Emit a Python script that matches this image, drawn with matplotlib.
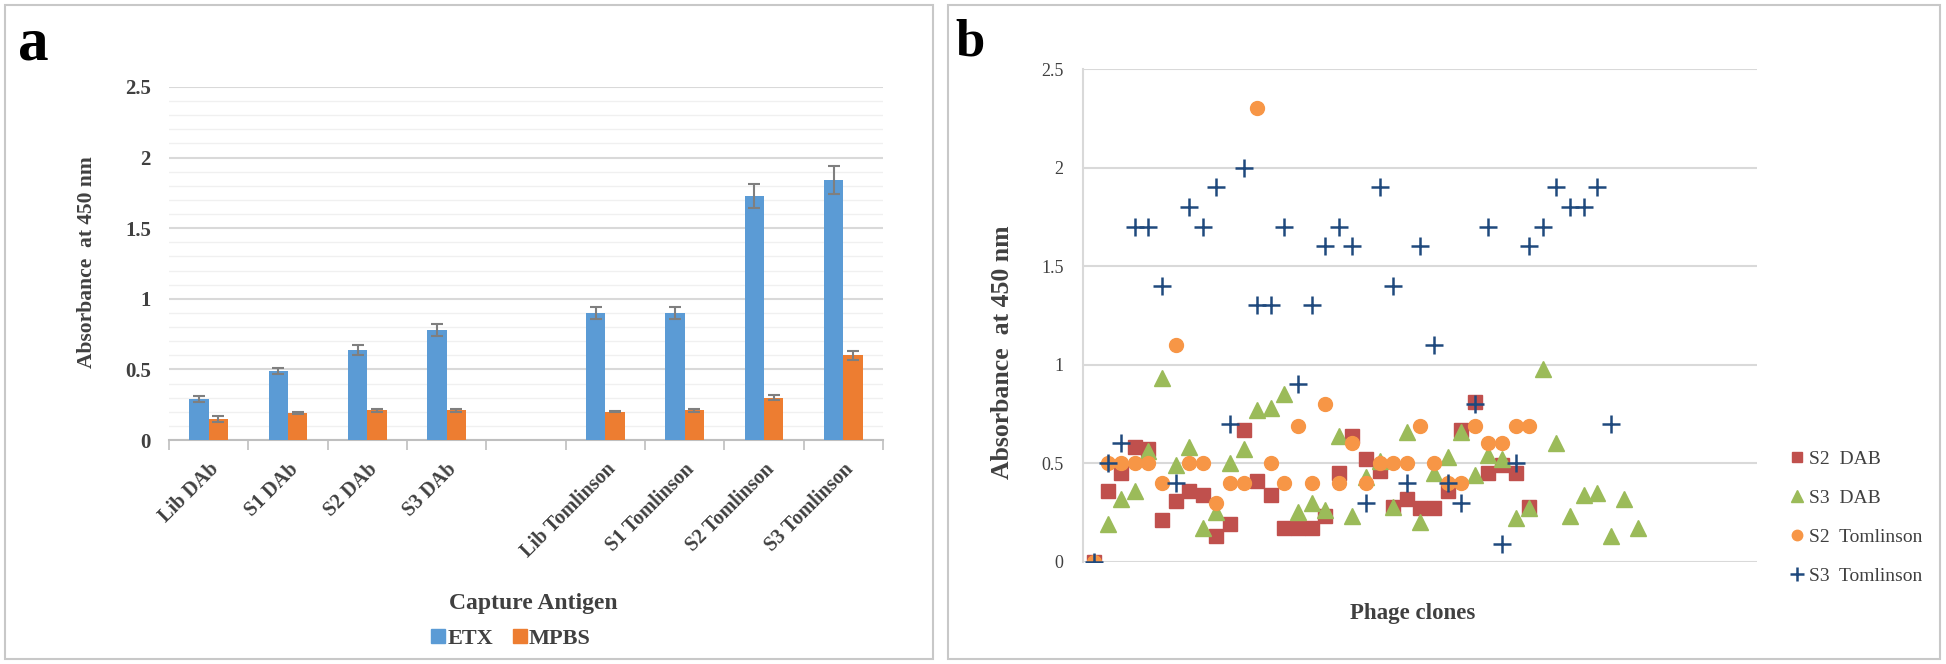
import numpy as np
import matplotlib
matplotlib.use("Agg")
import matplotlib.pyplot as plt
from matplotlib.patches import Rectangle
from matplotlib.lines import Line2D

plt.rcParams['font.family'] = ['Liberation Serif', 'DejaVu Serif']

# panel a data
categories = ["Lib DAb", "S1 DAb", "S2 DAb", "S3 DAb", "",
              "Lib Tomlinson", "S1 Tomlinson", "S2 Tomlinson", "S3 Tomlinson"]
etx = [0.29, 0.49, 0.64, 0.78, np.nan, 0.90, 0.90, 1.73, 1.84]
etx_err = [0.02, 0.02, 0.035, 0.045, np.nan, 0.045, 0.045, 0.085, 0.10]
mpbs = [0.15, 0.19, 0.21, 0.21, np.nan, 0.20, 0.21, 0.30, 0.60]
mpbs_err = [0.02, 0.005, 0.01, 0.01, np.nan, 0.005, 0.01, 0.02, 0.03]

# panel b data (clone index -> absorbance)
s2_dab = [0, 0.36, 0.45, 0.58, 0.57, 0.21, 0.31, 0.36, 0.34, 0.13, 0.19, 0.67,
          0.41, 0.34, 0.17, 0.17, 0.17, 0.23, 0.45, 0.64, 0.52, 0.46, 0.28,
          0.32, 0.27, 0.27, 0.36, 0.67, 0.81, 0.45, 0.49, 0.45, 0.28]
s3_dab = [0, 0.19, 0.32, 0.36, 0.56, 0.93, 0.49, 0.58, 0.17, 0.25, 0.50, 0.57,
          0.77, 0.78, 0.85, 0.25, 0.30, 0.26, 0.64, 0.23, 0.43, 0.51, 0.28,
          0.66, 0.20, 0.45, 0.53, 0.66, 0.44, 0.54, 0.52, 0.22, 0.27, 0.98,
          0.60, 0.23, 0.34, 0.35, 0.13, 0.32, 0.17]
s2_tom = [0, 0.5, 0.5, 0.5, 0.5, 0.40, 1.10, 0.5, 0.5, 0.30, 0.40, 0.40, 2.30,
          0.5, 0.40, 0.69, 0.40, 0.80, 0.40, 0.60, 0.40, 0.5, 0.5, 0.5, 0.69,
          0.5, 0.40, 0.40, 0.69, 0.60, 0.60, 0.69, 0.69]
s3_tom = [0, 0.5, 0.6, 1.7, 1.7, 1.4, 0.4, 1.8, 1.7, 1.9, 0.7, 2.0, 1.3, 1.3,
          1.7, 0.9, 1.3, 1.6, 1.7, 1.6, 0.3, 1.9, 1.4, 0.4, 1.6, 1.1, 0.4, 0.3,
          0.8, 1.7, 0.09, 0.5, 1.6, 1.7, 1.9, 1.8, 1.8, 1.9, 0.7]

txt = '#404040'
W, H = 1946, 664
fig = plt.figure(figsize=(W / 100, H / 100), dpi=100)

# panel frames
fig.patches.append(Rectangle((5 / W, 5 / H), 928 / W, 654 / H, transform=fig.transFigure,
                             fill=False, edgecolor='#C8C8C8', lw=1.5))
fig.patches.append(Rectangle((948 / W, 5 / H), 992 / W, 654 / H, transform=fig.transFigure,
                             fill=False, edgecolor='#C8C8C8', lw=1.5))

# ---- panel a ----
ax1 = fig.add_axes([169 / W, 1 - 440 / H, 714 / W, 353 / H])
x = np.arange(len(categories))
bw = 0.245
ax1.bar(x - bw / 2, etx, bw, color='#5B9BD5', label='ETX', zorder=3)
ax1.bar(x + bw / 2, mpbs, bw, color='#ED7D31', label='MPBS', zorder=3)
ax1.errorbar(x - bw / 2, etx, yerr=etx_err, fmt='none', ecolor='#7F7F7F',
             elinewidth=1.5, capsize=4, capthick=1.5, zorder=4)
ax1.errorbar(x + bw / 2, mpbs, yerr=mpbs_err, fmt='none', ecolor='#7F7F7F',
             elinewidth=1.5, capsize=4, capthick=1.5, zorder=4)
ax1.set_xlim(-0.5, len(categories) - 0.5)
ax1.set_ylim(0, 2.5)
ax1.set_yticks(np.arange(0, 2.51, 0.5))
ax1.set_yticklabels(['0', '0.5', '1', '1.5', '2', '2.5'])
ax1.set_yticks(np.arange(0, 2.51, 0.1), minor=True)
ax1.grid(axis='y', which='major', color='#D9D9D9', lw=1.5, zorder=0)
ax1.grid(axis='y', which='minor', color='#F0F0F0', lw=1.0, zorder=0)
ax1.set_xticks(x)
ax1.set_xticklabels(categories, rotation=45, ha='right', va='top',
                    rotation_mode='anchor', fontsize=14.5, fontweight='bold', color=txt)
ax1.set_xticks(np.arange(-0.5, len(categories), 1.0), minor=True)
ax1.tick_params(axis='x', which='major', length=0, pad=14)
ax1.tick_params(axis='x', which='minor', length=7, color='#BFBFBF', width=1.2)
ax1.tick_params(axis='y', which='both', length=0, pad=13, labelsize=15, labelcolor=txt)
for t in ax1.get_yticklabels():
    t.set_fontweight('bold')
for s in ['top', 'right', 'left']:
    ax1.spines[s].set_visible(False)
ax1.spines['bottom'].set_color('#BFBFBF')
ax1.spines['bottom'].set_linewidth(1.5)

fig.text(87 / W, 1 - 262 / H, 'Absorbance  at 450 nm', rotation=90, ha='center', va='center',
         fontsize=15.5, fontweight='bold', color=txt)
fig.text(533 / W, 1 - 603 / H, 'Capture Antigen', ha='center', va='center',
         fontsize=17, fontweight='bold', color=txt)
fig.legend(handles=[Line2D([], [], marker='s', ls='', color='#5B9BD5', ms=10),
                    Line2D([], [], marker='s', ls='', color='#ED7D31', ms=10)],
           labels=['ETX', 'MPBS'], loc='center', bbox_to_anchor=(510 / W, 1 - 639 / H),
           ncol=2, frameon=False, handletextpad=0.0, columnspacing=0.8, handlelength=0.8,
           prop={'size': 16, 'weight': 'bold'}, labelcolor=txt)
fig.text(33 / W, 1 - 59 / H, 'a', ha='center', va='baseline', fontsize=44, fontweight='bold')

# ---- panel b ----
ax2 = fig.add_axes([1083 / W, 1 - 561.7 / H, 674 / W, 492.7 / H])
ax2.plot(np.arange(1, len(s2_dab) + 1), s2_dab, 's', color='#C0504D', ms=10,
         label='S2  DAB', zorder=3)
ax2.plot(np.arange(1, len(s3_dab) + 1), s3_dab, '^', color='#9BBB59', ms=11,
         label='S3  DAB', zorder=4)
ax2.plot(np.arange(1, len(s2_tom) + 1), s2_tom, 'o', color='#F79646', ms=10,
         label='S2  Tomlinson', zorder=5)
ax2.plot(np.arange(1, len(s3_tom) + 1), s3_tom, '+', color='#1F497D', ms=13, mew=1.8,
         label='S3  Tomlinson', zorder=6)
ax2.set_xlim(0.19, 49.75)
ax2.set_ylim(0, 2.5)
ax2.set_yticks(np.arange(0, 2.51, 0.5))
ax2.set_yticklabels(['0', '0.5', '1', '1.5', '2', '2.5'])
ax2.set_xticks([])
ax2.grid(axis='y', color='#D9D9D9', lw=1.5, zorder=0)
ax2.tick_params(axis='y', length=0, pad=14, labelsize=13, labelcolor=txt)
for s in ['top', 'right', 'bottom']:
    ax2.spines[s].set_visible(False)
ax2.spines['left'].set_color('#D9D9D9')
ax2.spines['left'].set_linewidth(1.5)

fig.text(1003 / W, 1 - 352 / H, 'Absorbance  at 450 nm', rotation=90, ha='center', va='center',
         fontsize=18.5, fontweight='bold', color=txt)
fig.text(1413 / W, 1 - 614 / H, 'Phage clones', ha='center', va='center',
         fontsize=16.5, fontweight='bold', color=txt)
fig.legend(*ax2.get_legend_handles_labels(), loc='upper left',
           bbox_to_anchor=(1770 / W, 1 - 433 / H), frameon=False, handletextpad=0.1,
           handlelength=1.0, labelspacing=1.1, prop={'size': 14}, labelcolor=txt,
           markerscale=0.75)
fig.text(970 / W, 1 - 56 / H, 'b', ha='center', va='baseline', fontsize=38, fontweight='bold')

fig.savefig('out.png', dpi=100)
